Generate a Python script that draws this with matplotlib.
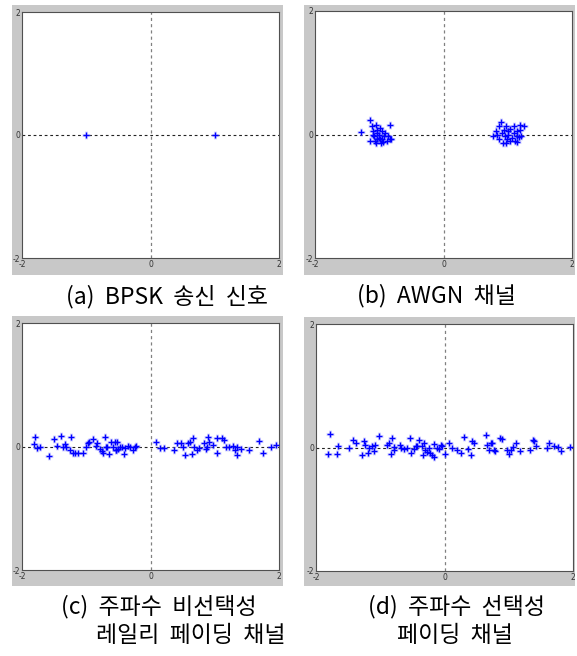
# BPSK 성상도 4개 패널 재현
import matplotlib
matplotlib.use("Agg")
import matplotlib.pyplot as plt
from matplotlib.patches import Rectangle

plt.rcParams['font.family'] = ['Noto Sans CJK KR', 'DejaVu Sans']

W, H = 577, 656

# (a) 송신 신호
a_x = [-1.0, 1.0]
a_y = [0.0, 0.0]

# (b) AWGN
b_x = [-1.29, -1.15, -1.12, -1.09, -1.08, -1.06, -1.05, -1.04, -1.03, -1.01, -1.00, -0.99,
       -0.98, -0.96, -0.95, -0.92, -0.91, -0.88, -0.86, -0.84, -0.83, -0.81, -1.14, -1.10,
       -1.05, -1.03, -0.94, -0.99,
       0.77, 0.82, 0.86, 0.87, 0.89, 0.91, 0.92, 0.94, 0.96, 0.98, 0.99, 1.00, 1.01, 1.03,
       1.04, 1.06, 1.09, 1.10, 1.12, 1.14, 1.15, 1.17, 1.19, 1.19, 1.21, 1.26, 1.14, 0.98, 0.83]
b_y = [0.04, 0.23, 0.13, 0.05, -0.03, -0.11, 0.16, 0.03, 0.08, -0.05, 0.00, 0.11,
       -0.13, 0.05, -0.08, -0.03, 0.03, -0.11, -0.03, 0.16, -0.08, -0.08, -0.11, 0.00,
       -0.14, -0.08, -0.12, -0.08,
       -0.03, 0.05, -0.08, 0.13, 0.21, 0.03, -0.13, 0.08, -0.03, 0.13, -0.08, 0.05, 0.00, -0.11,
       0.09, -0.05, 0.03, 0.13, -0.11, -0.03, 0.05, -0.04, 0.16, 0.08, -0.03, 0.13, -0.12, -0.14, 0.00]

# (c) 주파수 비선택성 레일리 페이딩
c_x = [-1.82, -1.79, -1.76, -1.72, -1.58, -1.50, -1.45, -1.39, -1.36, -1.33, -1.31, -1.23,
       -1.25, -1.21, -1.18, -1.13, -1.05, -1.01, -0.98, -0.96, -0.89, -0.85, -0.83, -0.79,
       -0.76, -0.74, -0.71, -0.69, -0.67, -0.64, -0.61, -0.58, -0.55, -0.54, -0.53, -0.52,
       -0.50, -0.48, -0.45, -0.41, -0.39, -0.35, -0.32, -0.28, -0.24, -0.22,
       0.09, 0.15, 0.21, 0.36, 0.41, 0.48, 0.50, 0.53, 0.59, 0.61, 0.64, 0.66, 0.67, 0.72,
       0.76, 0.84, 0.86, 0.88, 0.90, 0.91, 0.97, 1.03, 1.04, 1.12, 1.14, 1.17, 1.22, 1.28,
       1.31, 1.34, 1.35, 1.41, 1.54, 1.69, 1.75, 1.87, 1.95]
c_y = [0.04, 0.15, -0.03, 0.00, -0.15, 0.12, 0.01, 0.17, -0.01, 0.04, -0.01, 0.15,
       -0.05, -0.11, -0.10, -0.10, -0.11, 0.00, 0.05, 0.08, 0.12, 0.01, 0.05, -0.04,
       -0.08, -0.11, 0.16, 0.00, 0.00, -0.12, 0.08, 0.00, 0.08, -0.05, -0.06, 0.08,
       -0.04, 0.00, -0.01, -0.12, -0.03, 0.01, 0.00, -0.05, -0.01, 0.01,
       0.08, -0.03, -0.03, -0.05, 0.06, 0.06, 0.00, -0.13, 0.06, 0.08, -0.12, 0.13, -0.01, -0.05,
       -0.03, 0.06, -0.04, 0.00, 0.15, 0.08, 0.03, 0.13, -0.10, 0.13, 0.10, 0.00, -0.01, 0.01,
       -0.05, -0.13, 0.00, -0.04, -0.05, 0.09, -0.10, 0.00, 0.03]

# (d) 주파수 선택성 페이딩
d_x = [-1.81, -1.78, -1.67, -1.65, -1.49, -1.42, -1.38, -1.28, -1.26, -1.23, -1.19, -1.17,
       -1.13, -1.10, -1.08, -1.02, -0.90, -0.87, -0.83, -0.81, -0.79, -0.78, -0.70, -0.68,
       -0.63, -0.58, -0.53, -0.52, -0.48, -0.44, -0.43, -0.40, -0.35, -0.33, -0.32, -0.30,
       -0.27, -0.24, -0.22, -0.19, -0.17, -0.16, -0.12, -0.09, -0.06, -0.04,
       0.01, 0.07, 0.12, 0.20, 0.26, 0.31, 0.36, 0.42, 0.43, 0.46, 0.64, 0.66, 0.69, 0.72,
       0.74, 0.77, 0.79, 0.87, 0.90, 0.98, 1.00, 1.03, 1.07, 1.12, 1.17, 1.33, 1.38, 1.40,
       1.42, 1.60, 1.63, 1.70, 1.76, 1.81, 1.96]
d_y = [-0.11, 0.22, -0.10, 0.03, -0.01, 0.12, 0.08, -0.12, 0.10, 0.04, -0.09, -0.01,
       0.03, -0.06, 0.04, 0.18, 0.04, 0.07, -0.11, 0.15, 0.01, -0.04, 0.04, 0.00,
       -0.03, -0.01, 0.15, -0.09, -0.03, 0.02, 0.03, 0.12, 0.02, -0.12, 0.07, -0.04,
       -0.08, 0.00, -0.09, -0.12, -0.15, 0.06, -0.01, -0.03, 0.04, 0.03,
       -0.10, 0.07, -0.01, -0.04, -0.09, 0.17, -0.03, -0.12, 0.11, 0.07, 0.20, 0.04, -0.04, 0.07,
       0.08, -0.04, -0.06, 0.16, 0.13, -0.04, -0.11, -0.04, 0.01, 0.08, -0.05, -0.04, 0.12, 0.10,
       0.02, 0.00, 0.07, 0.03, 0.01, -0.06, 0.01]

panels = [
    # data, gray frame box (px), axes box (px), captions [(text, cx, cy)]
    ((a_x, a_y), (12, 5, 283, 275), (22, 12, 279, 258),
     [("(a)  BPSK  송신  신호", 167, 297)]),
    ((b_x, b_y), (304, 5, 575, 275), (315, 11, 572, 258),
     [("(b)  AWGN  채널", 436, 296)]),
    ((c_x, c_y), (12, 316, 283, 586), (22, 323, 279, 570),
     [("(c)  주파수  비선택성", 159, 607), ("레일리  페이딩  채널", 191, 636)]),
    ((d_x, d_y), (304, 317, 575, 586), (316, 324, 573, 571),
     [("(d)  주파수  선택성", 457, 607), ("페이딩  채널", 455, 636)]),
]


def fbox(x0, y0, x1, y1):
    return [x0 / W, 1 - y1 / H, (x1 - x0) / W, (y1 - y0) / H]


fig = plt.figure(figsize=(W / 100, H / 100), dpi=100)

for (xs, ys), frame, abox, caps in panels:
    fx = fbox(*frame)
    fig.patches.append(Rectangle((fx[0], fx[1]), fx[2], fx[3], transform=fig.transFigure,
                                 facecolor='#c8c8c8', edgecolor='none', zorder=-10))
    ax = fig.add_axes(fbox(*abox))
    ax.set_zorder(5)
    ax.set_xlim(-2, 2)
    ax.set_ylim(-2, 2)
    ax.axhline(0, color='#222222', lw=0.8, ls=(0, (2.5, 2.5)), zorder=1)
    ax.axvline(0, color='#808080', lw=0.9, ls=(0, (2.5, 2.5)), zorder=1)
    # 번진 듯한 테두리 + 본 마커
    ax.plot(xs, ys, ls='none', marker='+', ms=5.5, mew=2.2, color='#9a9aff', alpha=0.35, zorder=2)
    ax.plot(xs, ys, ls='none', marker='+', ms=5, mew=1.0, color='#0000ff', zorder=3)
    ax.set_xticks([-2, 0, 2])
    ax.set_yticks([-2, 0, 2])
    ax.set_xticklabels(['-2', '0', '2'], family='DejaVu Sans')
    ax.set_yticklabels(['-2', '0', '2'], family='DejaVu Sans')
    ax.tick_params(length=0, pad=1.5, labelsize=5.5, labelcolor='#333333')
    for s in ax.spines.values():
        s.set_color('#505050')
        s.set_linewidth(0.8)
    for txt, cx, cy in caps:
        fig.text(cx / W, 1 - cy / H, txt, ha='center', va='center', fontsize=16.5)

fig.savefig('out.png', dpi=100)
